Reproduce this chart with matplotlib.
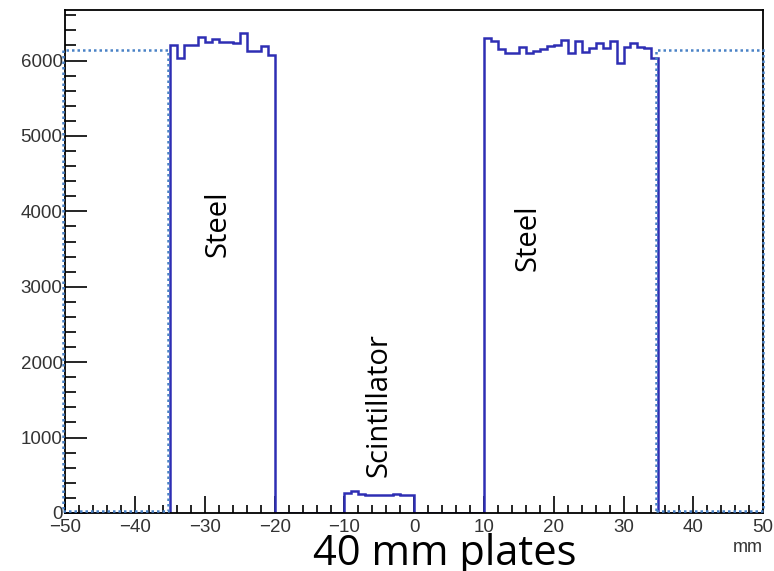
import numpy as np
import matplotlib.pyplot as plt
from matplotlib.patches import Rectangle
from matplotlib.ticker import MultipleLocator

# 1 mm bins from -50 to 50 mm
bin_lo, bin_hi = -50, 50

# left steel plate, -35 .. -20 mm
steel_left = [6208, 6036, 6208, 6208, 6309, 6243, 6287, 6243, 6243, 6234,
              6367, 6132, 6132, 6189, 6075]
# scintillator, -10 .. 0 mm
scint = [260, 290, 248, 238, 245, 240, 245, 248, 240, 238]
# right steel plate, 10 .. 35 mm
steel_right = [6300, 6265, 6154, 6097, 6097, 6183, 6097, 6128, 6147, 6192,
               6204, 6270, 6097, 6265, 6116, 6163, 6234, 6168, 6260, 5970,
               6176, 6234, 6176, 6168, 6036]

# dotted outer plates (drawn as boxes)
outer_boxes = [(-50.3, -35.3), (34.7, 50)]
outer_level = 6140

edges = np.arange(bin_lo, bin_hi + 1, 1)
counts = np.zeros(len(edges) - 1)
counts[15:30] = steel_left
counts[40:50] = scint
counts[60:85] = steel_right

plt.rcParams['font.family'] = ['Liberation Sans', 'DejaVu Sans']

fig = plt.figure(figsize=(7.74, 5.71), dpi=100)
ax = fig.add_axes([0.0846, 0.1016, 0.9012, 0.8809])

line_col = '#2e2eb4'
dot_col = '#4a82c6'

ax.stairs(counts, edges, color=line_col, lw=1.8, zorder=2)
for x0, x1 in outer_boxes:
    ax.add_patch(Rectangle((x0, 25), x1 - x0, outer_level - 25, fill=False,
                           ls=(0, (1, 1.2)), lw=1.8, ec=dot_col, zorder=6,
                           clip_on=False))

ax.set_xlim(bin_lo, bin_hi)
ax.set_ylim(0, 6670)

ax.xaxis.set_major_locator(MultipleLocator(10))
ax.xaxis.set_minor_locator(MultipleLocator(2))
ax.yaxis.set_major_locator(MultipleLocator(1000))
ax.yaxis.set_minor_locator(MultipleLocator(200))
ax.tick_params(axis='x', which='major', direction='in', length=12, width=1.2,
               labelsize=13.5, pad=4, labelcolor='#333333')
ax.tick_params(axis='x', which='minor', direction='in', length=6, width=1.2)
ax.tick_params(axis='y', which='major', direction='in', length=16, width=1.2,
               labelsize=13.5, pad=2, labelcolor='#333333')
ax.tick_params(axis='y', which='minor', direction='in', length=8, width=1.2)
for s in ax.spines.values():
    s.set_linewidth(1.3)
    s.set_zorder(5)

txt = dict(family=['Open Sans', 'DejaVu Sans'], rotation=90, ha='center',
           va='center', fontsize=21)
ax.text(-28.1, 3840, 'Steel', **txt)
ax.text(16.3, 3650, 'Steel', **txt)
ax.text(-5.0, 1430, 'Scintillator', **txt)

fig.text(0.574, 0.0105, '40 mm plates', ha='center', va='baseline',
         fontsize=30, family=['Open Sans', 'DejaVu Sans'])
fig.text(0.985, 0.027, 'mm', ha='right', va='bottom', fontsize=13,
         color='#333333')

fig.savefig('out.png', dpi=100)
